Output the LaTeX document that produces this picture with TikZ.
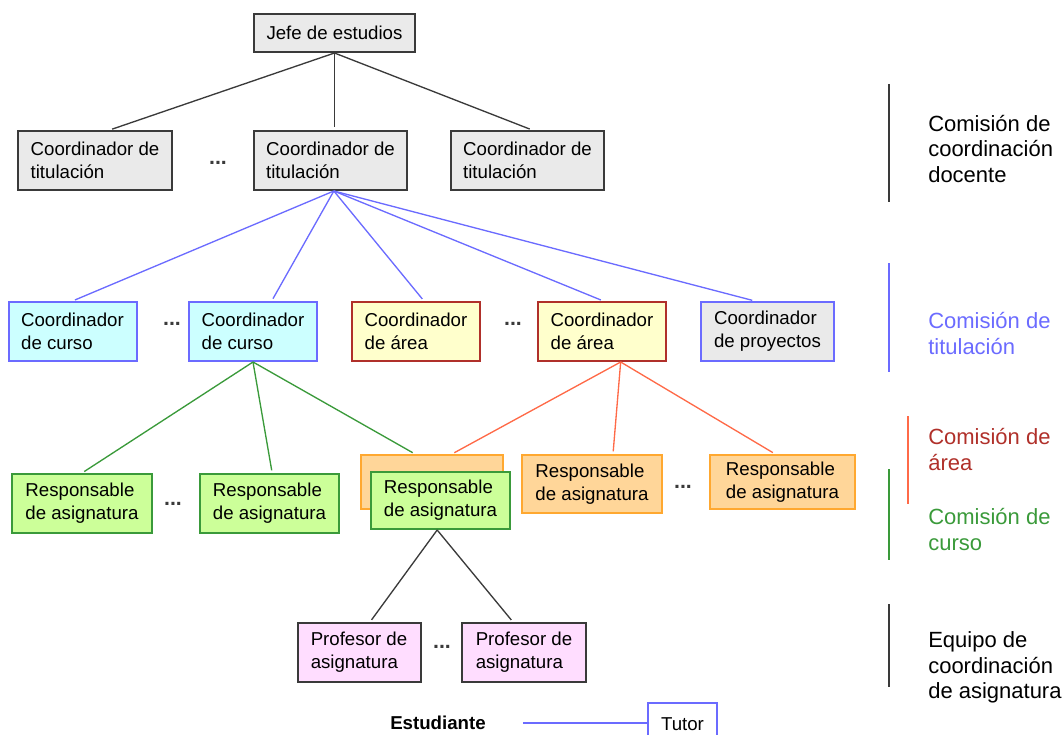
\documentclass[tikz,border=0pt]{standalone}
\usepackage{fontspec}
\setmainfont{Liberation Sans}
\usepackage{tikz}
\usetikzlibrary{positioning}
\definecolor{grisfill}{HTML}{EAEAEA}
\definecolor{grisline}{HTML}{3A3A3A}
\definecolor{azul}{HTML}{6B6BFF}
\definecolor{cianfill}{HTML}{CCFFFF}
\definecolor{amarfill}{HTML}{FFFFCC}
\definecolor{granate}{HTML}{B0302A}
\definecolor{naranfill}{HTML}{FFD699}
\definecolor{naranline}{HTML}{FFA830}
\definecolor{rojo}{HTML}{FF6A48}
\definecolor{verdefill}{HTML}{CCFF99}
\definecolor{verde}{HTML}{3A9A3A}
\definecolor{rosafill}{HTML}{FFDDFF}
\tikzset{caja/.style={draw,rectangle,line width=1.5pt,align=left,inner sep=0,
        minimum height=44.25pt,font=\fontsize{14pt}{17.25pt}\selectfont},
    grisbox/.style={caja,draw=grisline,fill=grisfill},
    cursobox/.style={caja,draw=azul,fill=cianfill,minimum width=96pt},
    areabox/.style={caja,draw=granate,fill=amarfill,minimum width=96pt},
    respbox/.style={caja,draw=verde,fill=verdefill,minimum width=104.5pt},
    naranbox/.style={caja,draw=naranline,fill=naranfill},
    profbox/.style={caja,draw=grisline,fill=rosafill,minimum width=92.25pt},
    puntos/.style={font=\fontsize{16pt}{18pt}\selectfont\bfseries,text=grisline},
    linea/.style={line width=1pt,shorten >=2pt},
    barra/.style={line width=1.5pt},
    comision/.style={anchor=west,align=left,inner sep=0,font=\fontsize{16.5pt}{19pt}\selectfont}}

\begin{document}
\begin{tikzpicture}[x=0.75pt,y=-0.75pt]

\useasboundingbox (0,0) rectangle (1064,735);

% comision de coordinacion docente

\node (jefe) at (334.5,33) [grisbox,minimum width=120.75pt,minimum height=28.5pt] {Jefe de estudios};
\node (tit1) at (95,160.5) [grisbox,minimum width=115.5pt] {Coordinador de\\titulación};
\node (tit2) at (330.5,160.5) [grisbox,minimum width=114.75pt] {Coordinador de\\titulación};
\node (tit3) at (527.5,160.5) [grisbox,minimum width=114.75pt] {Coordinador de\\titulación};

\draw [linea,grisline] (jefe.south) -- ([xshift=11pt]tit1.north);
\draw [linea,grisline] (jefe.south) -- ([xshift=3pt]tit2.north);
\draw [linea,grisline] (jefe.south) -- ([xshift=3.5pt]tit3.north);

% comision de titulacion

\node (curso1) at (72.5,331.5) [cursobox] {Coordinador\\de curso};
\node (curso2) at (253,331.5) [cursobox] {Coordinador\\de curso};
\node (area1) at (416,331.5) [areabox] {Coordinador\\de área};
\node (area2) at (602,331.5) [areabox] {Coordinador\\de área};
\node (proy) at (767.5,331.5) [caja,draw=azul,fill=grisfill,minimum width=99.75pt] {Coordinador\\de proyectos};

\draw [linea,azul] ([xshift=2.5pt]tit2.south) -- (curso1.north);
\draw [linea,azul] ([xshift=2.5pt]tit2.south) -- ([xshift=14pt]curso2.north);
\draw [linea,azul] ([xshift=2.5pt]tit2.south) -- ([xshift=6pt]area1.north);
\draw [linea,azul] ([xshift=2.5pt]tit2.south) -- ([xshift=1pt]area2.north);
\draw [linea,azul] ([xshift=2.5pt]tit2.south) -- ([xshift=-9.5pt]proy.north);

% comisiones de curso y de area

\node (resp1) at (82,503.5) [respbox] {Responsable\\de asignatura};
\node (resp2) at (269.5,503.5) [respbox] {Responsable\\de asignatura};
\node (naran1) at (432,482) [naranbox,minimum width=106.5pt,minimum height=40.5pt] {};
\node (resp3) at (440.5,500.5) [respbox,minimum height=42.75pt] {Responsable\\de asignatura};
\node (naran2) at (592,484) [naranbox,minimum width=105pt,minimum height=43.5pt] {Responsable\\de asignatura};
\node (naran3) at (782.5,482) [naranbox,minimum width=108.75pt,minimum height=40.5pt] {Responsable\\de asignatura};

\draw [linea,verde] (curso2.south) -- (resp1.north);
\draw [linea,verde] (curso2.south) -- ([xshift=2pt]resp2.north);
\draw [linea,verde] (curso2.south) -- ([xshift=-12.75pt]naran1.north);

\draw [linea,rojo] ([xshift=14pt]area2.south) -- ([xshift=15pt]naran1.north);
\draw [linea,rojo] ([xshift=14pt]area2.south) -- ([xshift=15.75pt]naran2.north);
\draw [linea,rojo] ([xshift=14pt]area2.south) -- ([xshift=-5.5pt]naran3.north);

% equipo de asignatura

\node (prof1) at (359,652.5) [profbox] {Profesor de\\asignatura};
\node (prof2) at (524,652.5) [profbox,minimum width=93pt] {Profesor de\\asignatura};

\draw [linea,grisline] ([xshift=-2.5pt]resp3.south) -- ([xshift=8.25pt]prof1.north);
\draw [linea,grisline] ([xshift=-2.5pt]resp3.south) -- ([xshift=-8.25pt]prof2.north);

\foreach \x/\y [count=\i] in {218/163,172/324,513/324,173/504,683/487,442/647}
    \node (dots\i) at (\x,\y) [puntos] {...};

% estudiante y tutor

\node (estudiante) at (438,723) [font=\fontsize{14pt}{17pt}\selectfont\bfseries,inner sep=0] {Estudiante};
\node (tutor) at (682.5,724) [caja,draw=azul,fill=white,line width=1.2pt,minimum width=51.75pt,minimum height=31.5pt] {Tutor};
\draw [line width=1pt,azul] ([xshift=27.75pt]estudiante.east) -- (estudiante.east -| tutor.west);

% comisiones

\draw [barra,grisline] (889,84) -- (889,202);
\draw [barra,azul] (889,263) -- (889,372);
\draw [barra,rojo] (908,416) -- (908,504);
\draw [barra,verde] (889,469) -- (889,560);
\draw [barra,grisline] (889,604) -- (889,687);

\node (comdoc) at (928,149) [comision,text=black] {Comisión de\\coordinación\\docente};
\node (comtit) at (928,333.5) [comision,text=azul] {Comisión de\\titulación};
\node (comarea) at (928,449.5) [comision,text=granate] {Comisión de\\área};
\node (comcurso) at (928,529.5) [comision,text=verde] {Comisión de\\curso};
\node (equipo) at (928,667.5) [comision,text=black] {Equipo de\\coordinación\\de asignatura};

\end{tikzpicture}
\end{document}
